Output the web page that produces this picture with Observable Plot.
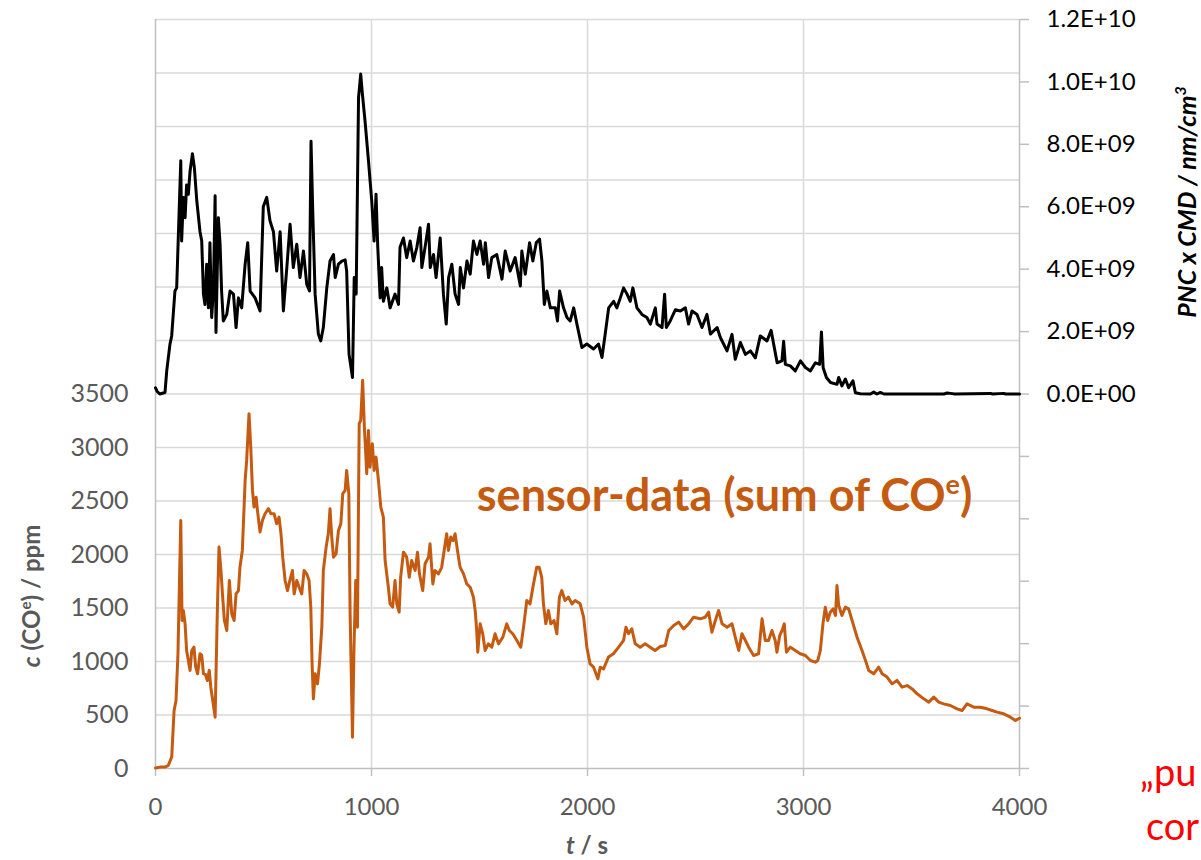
<!DOCTYPE html>
<html>
<head>
<meta charset="utf-8">
<script src="https://cdn.jsdelivr.net/npm/d3@7"></script>
<script src="https://cdn.jsdelivr.net/npm/@observablehq/plot@0.6"></script>
<style>
  html, body { margin: 0; padding: 0; background: #fff; overflow: hidden; }
  #chart { width: 1201px; height: 860px; }
</style>
</head>
<body>
<div id="chart"></div>
<script>
// ---- Data ----
// PNC x CMD series: time (s) and value in units of 1E9 nm/cm^3
const pncTime = [0,8,20,44,52,67,75,90,98,117,121,129,137,144,152,160,171,180,191,206,214,222,229,237,245,252,260,268,276,280,291,299,306,314,330,345,361,373,384,399,415,427,438,461,484,499,515,530,546,561,577,592,608,623,638,654,669,685,700,713,720,728,739,754,765,777,793,808,824,832,847,863,878,885,896,912,920,929,940,950,958,970,986,1001,1012,1021,1029,1040,1047,1055,1071,1086,1109,1125,1132,1148,1163,1179,1194,1210,1225,1233,1248,1264,1272,1287,1299,1318,1333,1346,1357,1372,1387,1403,1411,1426,1442,1457,1472,1488,1503,1519,1527,1542,1557,1580,1604,1619,1642,1665,1689,1696,1712,1732,1747,1763,1778,1789,1800,1812,1828,1851,1861,1871,1889,1905,1920,1936,1951,1974,1997,2028,2051,2067,2082,2098,2121,2136,2152,2167,2183,2198,2210,2229,2252,2275,2291,2314,2322,2345,2357,2365,2383,2407,2430,2453,2468,2484,2507,2530,2553,2569,2600,2615,2646,2669,2684,2708,2731,2754,2777,2800,2831,2850,2862,2878,2900,2908,2916,2939,2962,2986,3009,3032,3055,3075,3083,3091,3106,3125,3155,3163,3178,3194,3209,3229,3240,3263,3310,3325,3340,3356,3372,3650,3665,3680,3700,3866,3875,3927,3935,4000];
const pncE9 = [0.2,0.08,0,0.05,0.74,1.6,1.86,3.3,3.4,7.47,4.9,6.3,5.65,6.7,6.4,7.14,7.7,7.25,6.2,5.2,4.9,3.2,2.87,4.16,2.76,4.85,2.45,3.3,6.35,1.97,5.65,4.8,3.3,2.34,2.55,3.3,3.2,2.13,3.08,2.76,4.16,4.85,3.3,3.08,2.66,6.0,6.3,5.55,5.2,3.94,5.2,2.66,4.05,5.44,4.05,4.8,3.73,4.58,3.52,3.3,8.1,5.86,3.2,1.92,1.7,2.13,3.4,4.26,4.47,3.73,4.16,4.26,4.3,3.94,1.27,0.53,3.73,3.2,9.5,10.25,9.6,8.75,7.47,6.2,4.9,6.4,4.7,3.08,4.05,2.97,3.4,2.76,3.2,2.87,4.7,5.0,4.37,4.9,4.26,4.7,5.33,4.05,4.7,5.44,4.05,4.47,3.73,5.0,3.2,2.24,3.73,4.16,3.2,2.87,4.05,3.4,4.26,3.84,4.9,4.47,4.9,4.16,4.85,3.73,4.37,4.47,3.68,4.58,3.94,4.37,3.46,4.58,3.84,4.85,4.26,4.85,4.96,4.26,2.87,3.3,2.76,2.76,2.34,3.3,2.76,2.45,2.34,2.76,2.24,1.49,1.6,1.44,1.6,1.17,1.92,2.76,2.97,2.76,3.08,3.4,3.2,2.97,3.4,2.76,2.55,2.45,2.24,2.76,2.24,2.13,3.2,2.13,2.34,2.7,2.66,2.76,2.24,2.66,2.55,2.13,2.55,1.92,2.13,1.81,1.38,1.91,1.11,1.65,1.27,1.38,1.16,1.86,1.7,2.04,1.59,1.0,1.06,1.69,0.95,0.9,0.74,1.06,0.85,0.74,1.0,0.95,1.99,0.84,0.53,0.37,0.31,0.53,0.26,0.48,0.2,0.42,0.04,0.01,0,0.06,0,0.05,0,0,0.03,0.02,0,0.02,0,0.02,0,0];

// Sensor data: time (s) and sum of CO^e (ppm)
const coTime = [0,21,44,59,75,86,95,104,117,123,129,137,144,152,160,168,178,186,195,206,214,222,231,240,249,256,265,276,286,294,303,311,319,330,342,353,364,373,384,391,402,415,422,433,441,449,456,466,472,484,495,507,523,534,549,561,572,581,589,600,611,622,634,642,654,665,677,688,700,711,719,725,731,739,750,759,770,777,790,800,808,816,824,836,847,858,867,878,885,895,901,912,919,927,935,943,950,959,967,978,986,993,1004,1012,1021,1032,1043,1055,1063,1078,1086,1098,1109,1117,1128,1135,1148,1163,1175,1186,1202,1213,1222,1237,1248,1264,1271,1284,1294,1310,1325,1341,1348,1356,1367,1378,1387,1398,1410,1426,1441,1457,1472,1480,1487,1492,1503,1515,1526,1541,1557,1572,1588,1608,1626,1638,1654,1673,1691,1704,1719,1734,1750,1765,1776,1788,1796,1807,1819,1830,1845,1858,1870,1881,1896,1912,1928,1943,1966,1982,1997,2012,2028,2048,2059,2074,2097,2120,2144,2167,2178,2190,2205,2221,2244,2267,2290,2313,2337,2360,2376,2399,2422,2445,2468,2491,2522,2545,2561,2576,2592,2607,2623,2646,2669,2684,2700,2715,2731,2746,2769,2792,2808,2823,2838,2854,2869,2877,2890,2901,2911,2921,2939,2962,2985,3009,3032,3055,3066,3078,3090,3101,3112,3124,3137,3148,3155,3163,3178,3194,3209,3225,3248,3271,3287,3302,3325,3348,3364,3387,3410,3433,3456,3480,3503,3526,3557,3580,3603,3626,3649,3680,3711,3734,3757,3788,3819,3850,3873,3896,3927,3958,3981,4000];
const coPpm = [5,13,13,28,107,540,636,1072,2318,1383,1476,1352,1103,1010,917,1103,1134,950,885,1072,1060,885,880,822,917,760,636,480,1445,2069,1851,1601,1383,1290,1757,1445,1383,1632,1663,1881,2038,2692,2879,3316,3004,2599,2443,2536,2412,2210,2318,2381,2428,2381,2381,2287,2350,2194,1975,1757,1663,1757,1850,1632,1757,1694,1632,1851,1819,1757,1507,978,651,885,791,978,1321,1851,2069,2194,2428,2163,1975,2007,2225,2287,2568,2599,2786,2568,1445,293,1134,1757,1321,3223,3254,3628,3191,2755,3160,2816,3035,2786,2910,2692,2443,2350,1944,1694,1539,1508,1757,1540,1461,1788,2022,1975,1788,1944,1851,2022,1820,1663,1913,1975,2100,1725,1851,1819,1880,2100,2194,2038,2163,2130,2194,2038,1882,1819,1725,1694,1601,1477,1290,1087,1352,1259,1103,1165,1134,1259,1165,1228,1352,1290,1259,1197,1134,1321,1570,1539,1725,1882,1882,1788,1539,1352,1477,1352,1383,1259,1601,1663,1570,1601,1539,1570,1539,1414,1134,978,947,838,947,930,1041,1072,1134,1197,1321,1259,1305,1165,1134,1165,1134,1103,1140,1150,1290,1336,1368,1305,1352,1414,1399,1414,1461,1274,1383,1477,1352,1321,1352,1227,1103,1259,1196,1134,1056,1072,1399,1196,1196,1290,1196,1087,1243,1290,1352,1087,1134,1103,1072,1056,1009,994,1009,1103,1352,1508,1383,1461,1492,1430,1710,1523,1430,1508,1492,1383,1227,1103,1009,916,885,947,885,854,791,823,760,775,744,698,651,620,667,620,604,589,558,542,604,573,573,558,542,527,511,480,449,470];

// Axes
const xTicks = [0, 1000, 2000, 3000, 4000];
const leftTicks = [0, 500, 1000, 1500, 2000, 2500, 3000, 3500];
const gridValues = [0, 500, 1000, 1500, 2000, 2500, 3000, 3500, 4000, 4500, 5000, 5500, 6000, 6500, 7000];
const rightTicks = [-1.2e10, -1.0e10, -8e9, -6e9, -4e9, -2e9, 0, 2e9, 4e9, 6e9, 8e9, 1.0e10, 1.2e10];

// Secondary (right) axis mapping: right 0 -> left 3500, right 1.2E10 -> left 7000
const toLeft = v => 3500 + v / 1.2e10 * 3500;
const toRight = y => Math.round(((y - 3500) / 3500 * 1.2e10) / 1e8) * 1e8;
const fmtE = v => {
  if (v < 0) return "";
  const [m, e] = v.toExponential(1).split("e");
  return m + "E" + e[0] + e.slice(1).padStart(2, "0");
};

const pnc = pncTime.map((t, i) => ({t, v: pncE9[i] * 1e9}));
const co = coTime.map((t, i) => ({t, v: coPpm[i]}));

const ORANGE = "#C55A11";
const GREY = "#595959";

const svg = Plot.plot({
  width: 1201,
  height: 860,
  marginLeft: 155,
  marginRight: 182,
  marginTop: 19,
  marginBottom: 92,
  style: {fontFamily: "Lato, sans-serif", background: "#fff", overflow: "visible"},
  x: {domain: [0, 4000]},
  y: {domain: [0, 7000]},
  marks: [
    Plot.ruleY(gridValues.filter(d => d > 0), {stroke: "#d9d9d9", strokeWidth: 1.5}),
    Plot.ruleX(xTicks.filter(d => d > 0 && d < 4000), {stroke: "#d9d9d9", strokeWidth: 1.5}),
    Plot.ruleX([0, 4000], {stroke: "#bfbfbf", strokeWidth: 1.5}),
    Plot.ruleY([0], {stroke: "#bfbfbf", strokeWidth: 1.5}),
    Plot.axisX({ticks: xTicks, tickSize: 8, tickPadding: 21, tickFormat: d => String(d),
      fontSize: 24, fill: GREY, stroke: "#bfbfbf", strokeWidth: 1.5, label: null}),
    Plot.axisY({anchor: "left", ticks: leftTicks, tickSize: 0, tickPadding: 27, tickFormat: d => String(d),
      fontSize: 25, fill: GREY, label: null}),
    Plot.axisY({anchor: "right", ticks: rightTicks.map(toLeft), tickSize: 9, tickPadding: 18,
      tickFormat: y => fmtE(toRight(y)), fontSize: 24, fill: "#000", stroke: "#bfbfbf", strokeWidth: 1.5, label: null}),
    Plot.line(co, {x: "t", y: "v", stroke: ORANGE, strokeWidth: 3, strokeLinejoin: "round"}),
    Plot.line(pnc, {x: "t", y: d => toLeft(d.v), stroke: "#000", strokeWidth: 3, strokeLinejoin: "round"})
  ]
});

document.getElementById("chart").appendChild(svg);

const root = d3.select(svg);
const xs = svg.scale("x"), ys = svg.scale("y");

// Left axis title
const lt = root.append("text")
  .attr("transform", "translate(40,596) rotate(-90)")
  .attr("text-anchor", "middle").attr("font-size", 24).attr("font-weight", "bold").attr("fill", GREY);
lt.append("tspan").attr("font-style", "italic").text("c");
lt.append("tspan").text(" (CO");
lt.append("tspan").attr("font-size", 15).attr("dy", -9).text("e");
lt.append("tspan").attr("dy", 9).text(") / ppm");

// Right axis title
const rt = root.append("text")
  .attr("transform", "translate(1196,202) rotate(-90)")
  .attr("text-anchor", "middle").attr("font-size", 25).attr("font-weight", "bold")
  .attr("font-style", "italic").attr("fill", "#000");
rt.append("tspan").text("PNC x CMD / nm/cm");
rt.append("tspan").attr("font-size", 16).attr("dy", -10).text("3");

// X axis title
const xt = root.append("text")
  .attr("x", xs.apply(2000)).attr("y", 854)
  .attr("text-anchor", "middle").attr("font-size", 24).attr("font-weight", "bold").attr("fill", GREY);
xt.append("tspan").attr("font-style", "italic").text("t");
xt.append("tspan").text(" / s");

// Series annotation
const an = root.append("text")
  .attr("x", xs.apply(1490)).attr("y", ys.apply(2400))
  .attr("text-anchor", "start")
  .attr("font-size", 45).attr("font-weight", "bold").attr("fill", ORANGE);
an.append("tspan").text("sensor-data (sum of CO");
an.append("tspan").attr("font-size", 27).attr("dy", -17).text("e");
an.append("tspan").attr("dy", 17).text(")");

// Red slide text at right edge (only the part visible in the reference)
root.append("text").attr("x", 1140).attr("y", 786).attr("text-anchor", "start")
  .attr("font-size", 38).attr("fill", "#ff0000").text("„pu");
root.append("text").attr("x", 1146).attr("y", 840).attr("text-anchor", "start")
  .attr("font-size", 38).attr("fill", "#ff0000").text("cor");
</script>
</body>
</html>
